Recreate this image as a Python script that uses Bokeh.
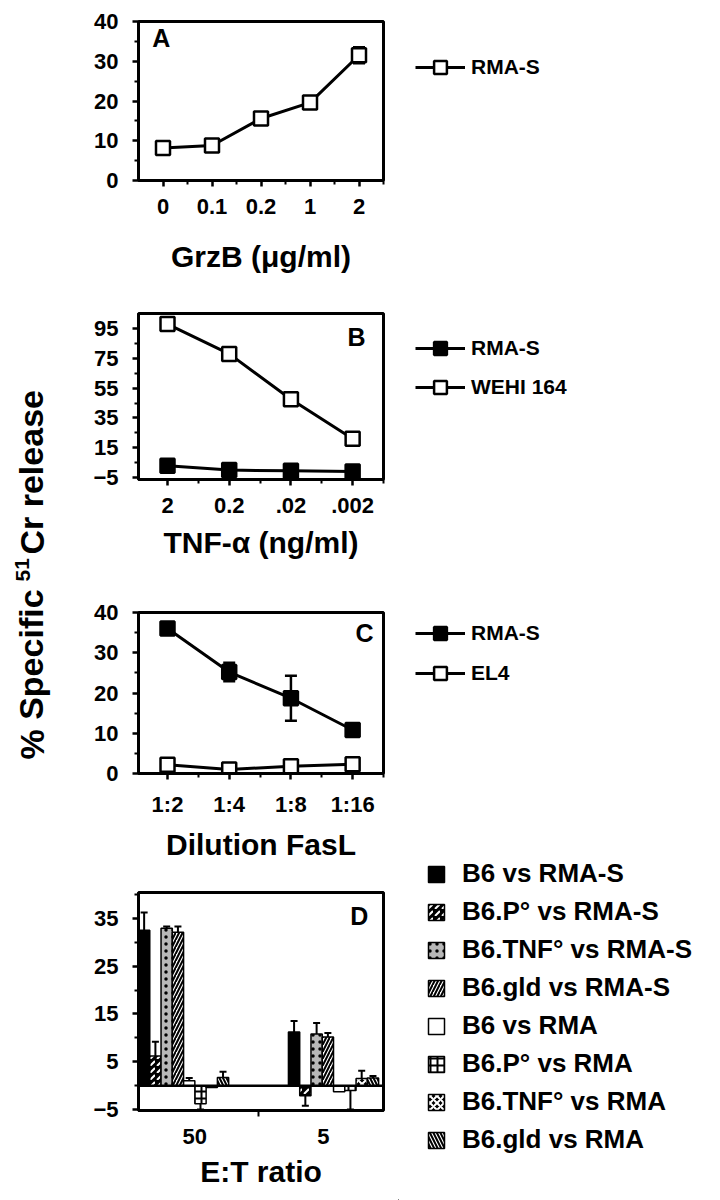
from bokeh.plotting import figure
from bokeh.models import (FixedTicker, Legend, LegendItem, Whisker, ColumnDataSource,
                          Range1d, Span, TeeHead, Label)
from bokeh.layouts import row, column
from bokeh.embed import file_html
from bokeh.resources import INLINE
from bokeh.core.properties import value

FONT = "Liberation Sans"

# ---------------- data ----------------
# Panel A: GrzB
a_doses = ["0", "0.1", "0.2", "1", "2"]
a_rmas = [8.2, 8.8, 15.6, 19.6, 31.5]
a_rmas_err = [0, 0, 0, 0, 2.0]

# Panel B: TNF-alpha
b_doses = ["2", "0.2", ".02", ".002"]
b_rmas = [3.0, 0.0, -0.5, -1.0]
b_wehi = [98.0, 78.0, 47.5, 21.0]

# Panel C: FasL dilution
c_dil = ["1:2", "1:4", "1:8", "1:16"]
c_rmas = [36.0, 25.2, 18.7, 10.8]
c_rmas_err = [0, 2.3, 5.6, 0]
c_el4 = [2.2, 1.0, 1.8, 2.3]

# Panel D: E:T ratio bars
d_ratios = ["50", "5"]
d_series = ["B6 vs RMA-S", "B6.P° vs RMA-S", "B6.TNF° vs RMA-S", "B6.gld vs RMA-S",
            "B6 vs RMA", "B6.P° vs RMA", "B6.TNF° vs RMA", "B6.gld vs RMA"]
d_vals_50 = [32.5, 6.2, 32.9, 32.1, 1.0, -3.8, -0.4, 1.7]
d_errs_50 = [3.7, 3.0, 0.4, 1.2, 0.6, 1.2, 0.0, 1.2]
d_vals_5 = [11.2, -2.1, 10.8, 10.2, -1.3, -1.0, 1.5, 1.6]
d_errs_5 = [2.3, 2.1, 2.3, 0.8, 0.0, 4.0, 1.6, 0.4]

# bar styles (fill, hatch pattern, hatch colour)
d_styles = [
    ("black", None, "white"),
    ("black", ",", "white"),
    ("#b8b8b8", ".", "black"),
    ("white", "/", "black"),
    ("white", None, "black"),
    ("white", "+", "black"),
    ("black", "x", "white"),
    ("white", "\\", "black"),
]

PANEL_W = 320
LEG_W = 322


def make_fig(height, left, top, bottom, frame_w, xr, yr):
    p = figure(width=PANEL_W, height=height, x_range=xr, y_range=yr,
               output_backend="svg", toolbar_location=None,
               min_border_left=left, min_border_top=top,
               min_border_right=PANEL_W - left - frame_w, min_border_bottom=bottom)
    p.xgrid.visible = False
    p.ygrid.visible = False
    p.outline_line_color = "black"
    p.outline_line_width = 3
    p.outline_line_alpha = 1
    for ax in (p.xaxis[0], p.yaxis[0]):
        ax.axis_line_width = 3
        ax.axis_line_color = "black"
        ax.major_tick_line_width = 2.5
        ax.minor_tick_line_width = 2
        ax.major_tick_out = 6
        ax.major_tick_in = 0
        ax.minor_tick_out = 4
        ax.minor_tick_in = 0
        ax.major_label_text_font = FONT
        ax.major_label_text_font_style = "bold"
        ax.major_label_text_font_size = "22px"
        ax.major_label_text_color = "black"
        ax.axis_label_text_font = FONT
        ax.axis_label_text_font_style = "bold"
        ax.axis_label_text_font_size = "30px"
        ax.axis_label_text_color = "black"
    p.yaxis.major_label_standoff = 14
    p.xaxis.major_label_standoff = 12
    return p


def blank_fig(height):
    f = figure(width=LEG_W, height=height, x_range=Range1d(0, 1), y_range=Range1d(0, 1),
               output_backend="svg", toolbar_location=None, min_border=0)
    f.axis.visible = False
    f.grid.visible = False
    f.outline_line_color = None
    return f


def panel_letter(p, x, y, text, align):
    p.add_layout(Label(x=x, y=y, text=text, text_font=FONT, text_font_style="bold",
                       text_font_size="25px", text_align=align, text_baseline="top",
                       text_color="black"))


def line_legend(height, series, vx, vy, spacing):
    f = blank_fig(height)
    items = []
    for name, filled in series:
        ln = f.line(x=[-10, -9], y=[-10, -10], line_color="black", line_width=3)
        sc = f.scatter(x=[-10], y=[-10], marker="square", size=13,
                       fill_color="black" if filled else "white",
                       line_color="black", line_width=2.5)
        items.append(LegendItem(label=name, renderers=[ln, sc]))
    leg = Legend(items=items, location=(vx, vy), orientation="vertical",
                 glyph_width=50, glyph_height=32, spacing=spacing, padding=0, margin=0,
                 label_standoff=6, label_text_font=FONT, label_text_font_style="bold",
                 label_text_font_size="21px", label_text_color="black",
                 border_line_color=None, background_fill_alpha=0)
    f.add_layout(leg, "center")
    return f


def add_series(p, xs, ys, filled):
    src = ColumnDataSource(dict(x=xs, y=ys))
    p.line("x", "y", source=src, line_color="black", line_width=3)
    p.scatter("x", "y", source=src, marker="square", size=14,
              fill_color="black" if filled else "white",
              line_color="black", line_width=2.5)


def add_err(p, xs, ys, errs):
    xe = [x for x, e in zip(xs, errs) if e > 0]
    up = [y + e for y, e in zip(ys, errs) if e > 0]
    lo = [y - e for y, e in zip(ys, errs) if e > 0]
    src = ColumnDataSource(dict(x=xe, upper=up, lower=lo))
    w = Whisker(base="x", upper="upper", lower="lower", source=src, dimension="height",
                line_width=2.5, line_color="black", level="underlay",
                upper_head=TeeHead(size=12, line_width=2.5),
                lower_head=TeeHead(size=12, line_width=2.5))
    p.add_layout(w)


# ---------------- Panel A ----------------
ax_ = list(range(len(a_doses)))
pA = make_fig(288, 57, 21, 108, 248, Range1d(-0.5, 4.5), Range1d(0, 40))
pA.xaxis.ticker = FixedTicker(ticks=ax_, minor_ticks=[i + 0.5 for i in ax_])
pA.xaxis.major_label_overrides = {i: s for i, s in zip(ax_, a_doses)}
pA.yaxis.ticker = FixedTicker(ticks=[0, 10, 20, 30, 40], minor_ticks=[5, 15, 25, 35])
pA.xaxis.axis_label = "GrzB (μg/ml)"
pA.xaxis.axis_label_standoff = 23
add_err(pA, ax_, a_rmas, a_rmas_err)
add_series(pA, ax_, a_rmas, False)
panel_letter(pA, -0.22, 39.3, "A", "left")
lA = line_legend(288, [("RMA-S", False)], 17, 205, 7)

# ---------------- Panel B ----------------
bx = list(range(len(b_doses)))
pB = make_fig(292, 56, 25, 101, 252, Range1d(-0.47, 3.5), Range1d(-6.3, 105.1))
pB.xaxis.ticker = FixedTicker(ticks=bx, minor_ticks=[i + 0.5 for i in bx])
pB.xaxis.major_label_overrides = {i: s for i, s in zip(bx, b_doses)}
pB.yaxis.ticker = FixedTicker(ticks=[-5, 15, 35, 55, 75, 95], minor_ticks=[5, 25, 45, 65, 85])
pB.xaxis.axis_label = "TNF-α (ng/ml)"
pB.xaxis.axis_label_standoff = 10
add_series(pB, bx, b_rmas, True)
add_series(pB, bx, b_wehi, False)
panel_letter(pB, 3.21, 98.6, "B", "right")
lB = line_legend(292, [("RMA-S", True), ("WEHI 164", False)], 17, 177, 7)

# ---------------- Panel C ----------------
cx = list(range(len(c_dil)))
pC = make_fig(290, 57, 32, 97, 252, Range1d(-0.47, 3.5), Range1d(0, 40))
pC.xaxis.ticker = FixedTicker(ticks=cx, minor_ticks=[i + 0.5 for i in cx])
pC.xaxis.major_label_overrides = {i: s for i, s in zip(cx, c_dil)}
pC.yaxis.ticker = FixedTicker(ticks=[0, 10, 20, 30, 40], minor_ticks=[5, 15, 25, 35])
pC.xaxis.axis_label = "Dilution FasL"
pC.xaxis.axis_label_standoff = 8
add_err(pC, cx, c_rmas, c_rmas_err)
add_series(pC, cx, c_rmas, True)
add_series(pC, cx, c_el4, False)
panel_letter(pC, 3.34, 38.4, "C", "right")
lC = line_legend(260, [("RMA-S", True), ("EL4", False)], 17, 151, 8)

# ---------------- Panel D ----------------
pD = make_fig(330, 60, 22, 90, 255, Range1d(0, 2), Range1d(-5.2, 40.4))
group_start = [0.0, 1.224]
bw = 0.092
label_pos = [0.46, 1.51]
pD.xaxis.ticker = FixedTicker(ticks=label_pos, minor_ticks=[0.98])
pD.xaxis.major_label_overrides = {label_pos[i]: d_ratios[i] for i in range(2)}
pD.xaxis.major_tick_line_color = None
pD.xaxis.minor_tick_out = 6
pD.yaxis.ticker = FixedTicker(ticks=[-5, 5, 15, 25, 35], minor_ticks=[0, 10, 20, 30, 40])
pD.xaxis.axis_label = "E:T ratio"
pD.xaxis.axis_label_standoff = 8
pD.add_layout(Span(location=0, dimension="width", line_color="black", line_width=2.5))

lD = blank_fig(360)
items = []
pos_x, pos_lo, pos_up, neg_x, neg_lo, neg_up = [], [], [], [], [], []
for i, name in enumerate(d_series):
    xs = [group_start[g] + (i + 0.5) * bw for g in range(2)]
    vals = [d_vals_50[i], d_vals_5[i]]
    errs = [d_errs_50[i], d_errs_5[i]]
    fill, hatch, hcol = d_styles[i]
    kw = dict(fill_color=fill, line_color="black", line_width=1.5)
    if hatch:
        kw.update(hatch_pattern=hatch, hatch_color=hcol, hatch_scale=7, hatch_weight=2)
    src = ColumnDataSource(dict(x=xs, top=vals))
    pD.vbar(x="x", top="top", bottom=0, width=bw, source=src, **kw)
    sw = lD.vbar(x=[-10], top=[-9], bottom=-10, width=0.1, **kw)
    items.append(LegendItem(label=name, renderers=[sw]))
    for x, v, e in zip(xs, vals, errs):
        if e <= 0:
            continue
        if v >= 0:
            pos_x.append(x); pos_lo.append(v); pos_up.append(v + e)
        else:
            neg_x.append(x); neg_lo.append(v - e); neg_up.append(v)

pD.add_layout(Whisker(base="x", upper="upper", lower="lower",
                      source=ColumnDataSource(dict(x=pos_x, upper=pos_up, lower=pos_lo)),
                      line_width=2, upper_head=TeeHead(size=7, line_width=2), lower_head=None))
pD.add_layout(Whisker(base="x", upper="upper", lower="lower",
                      source=ColumnDataSource(dict(x=neg_x, upper=neg_up, lower=neg_lo)),
                      line_width=2, lower_head=TeeHead(size=7, line_width=2), upper_head=None))
panel_letter(pD, 1.875, 38.4, "D", "right")

legD = Legend(items=items, location=(28, 45), orientation="vertical",
              glyph_width=20, glyph_height=20, spacing=7, padding=0, margin=0,
              label_standoff=16, label_text_font=FONT, label_text_font_style="bold",
              label_text_font_size="26px", label_text_color="black",
              border_line_color=None, background_fill_alpha=0)
lD.add_layout(legD, "center")

# ---------------- shared y label ----------------
pL = figure(width=78, height=1200, x_range=Range1d(0, 78), y_range=Range1d(1200, 0),
            output_backend="svg", toolbar_location=None, min_border=0)
pL.axis.visible = False
pL.grid.visible = False
pL.outline_line_color = None
pL.text(x=[31], y=[759], text=["% Specific"], angle=1.5708, text_align="left",
        text_baseline="middle", text_font=value(FONT), text_font_style="bold",
        text_font_size="34px", text_color="black")
pL.text(x=[22], y=[581], text=["51"], angle=1.5708, text_align="left",
        text_baseline="middle", text_font=value(FONT), text_font_style="bold",
        text_font_size="21px", text_color="black")
pL.text(x=[31], y=[554], text=["Cr release"], angle=1.5708, text_align="left",
        text_baseline="middle", text_font=value(FONT), text_font_style="bold",
        text_font_size="34px", text_color="black")

layout = row(pL, column(pA, pB, pC, pD), column(lA, lB, lC, lD))
open("out.html", "w").write(file_html(layout, INLINE))
